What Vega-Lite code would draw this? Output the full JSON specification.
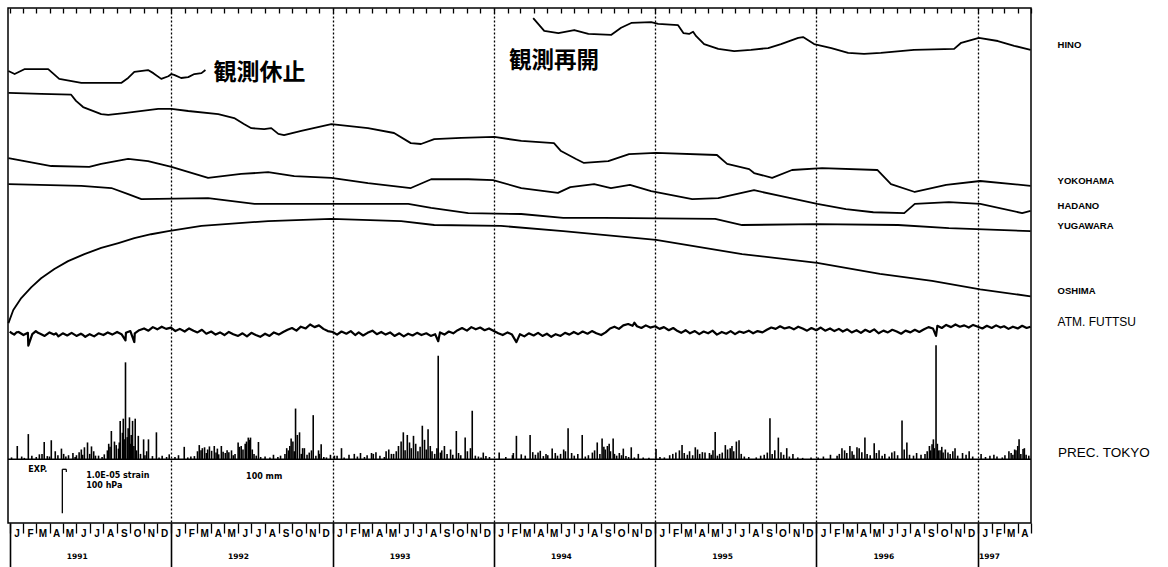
{
  "$schema": "https://vega.github.io/schema/vega-lite/v6.json",
  "width": 1023,
  "height": 515,
  "padding": {"left": 7, "top": 7, "right": 2, "bottom": 0},
  "background": "white",
  "config": {
    "view": {"stroke": "black", "strokeWidth": 1.5},
    "text": {"font": "Liberation Sans", "color": "black"}
  },
  "resolve": {"axis": {"x": "independent"}},
  "datasets": {
    "one": [{}],
    "strain": [
      {"station": "HINO", "part": 1, "date": "1990-12-29", "value": 882},
      {"station": "HINO", "part": 1, "date": "1991-01-12", "value": 875},
      {"station": "HINO", "part": 1, "date": "1991-02-03", "value": 886},
      {"station": "HINO", "part": 1, "date": "1991-03-29", "value": 886},
      {"station": "HINO", "part": 1, "date": "1991-04-23", "value": 864},
      {"station": "HINO", "part": 1, "date": "1991-06-12", "value": 855},
      {"station": "HINO", "part": 1, "date": "1991-09-11", "value": 855},
      {"station": "HINO", "part": 1, "date": "1991-09-26", "value": 866},
      {"station": "HINO", "part": 1, "date": "1991-10-10", "value": 880},
      {"station": "HINO", "part": 1, "date": "1991-11-10", "value": 884},
      {"station": "HINO", "part": 1, "date": "1991-11-22", "value": 877},
      {"station": "HINO", "part": 1, "date": "1991-12-10", "value": 864},
      {"station": "HINO", "part": 1, "date": "1991-12-26", "value": 870},
      {"station": "HINO", "part": 1, "date": "1992-01-02", "value": 875},
      {"station": "HINO", "part": 1, "date": "1992-01-08", "value": 873},
      {"station": "HINO", "part": 1, "date": "1992-01-24", "value": 866},
      {"station": "HINO", "part": 1, "date": "1992-02-09", "value": 868},
      {"station": "HINO", "part": 1, "date": "1992-02-23", "value": 875},
      {"station": "HINO", "part": 1, "date": "1992-03-10", "value": 877},
      {"station": "HINO", "part": 1, "date": "1992-03-19", "value": 884},
      {"station": "HINO", "part": 2, "date": "1994-03-31", "value": 1002},
      {"station": "HINO", "part": 2, "date": "1994-04-25", "value": 973},
      {"station": "HINO", "part": 2, "date": "1994-05-27", "value": 968},
      {"station": "HINO", "part": 2, "date": "1994-07-02", "value": 975},
      {"station": "HINO", "part": 2, "date": "1994-08-03", "value": 966},
      {"station": "HINO", "part": 2, "date": "1994-09-24", "value": 964},
      {"station": "HINO", "part": 2, "date": "1994-10-16", "value": 980},
      {"station": "HINO", "part": 2, "date": "1994-11-08", "value": 991},
      {"station": "HINO", "part": 2, "date": "1994-12-23", "value": 993},
      {"station": "HINO", "part": 2, "date": "1995-01-08", "value": 989},
      {"station": "HINO", "part": 2, "date": "1995-02-22", "value": 986},
      {"station": "HINO", "part": 2, "date": "1995-03-06", "value": 968},
      {"station": "HINO", "part": 2, "date": "1995-03-19", "value": 966},
      {"station": "HINO", "part": 2, "date": "1995-03-28", "value": 971},
      {"station": "HINO", "part": 2, "date": "1995-04-04", "value": 961},
      {"station": "HINO", "part": 2, "date": "1995-04-22", "value": 943},
      {"station": "HINO", "part": 2, "date": "1995-05-24", "value": 932},
      {"station": "HINO", "part": 2, "date": "1995-06-29", "value": 927},
      {"station": "HINO", "part": 2, "date": "1995-08-06", "value": 930},
      {"station": "HINO", "part": 2, "date": "1995-09-14", "value": 934},
      {"station": "HINO", "part": 2, "date": "1995-10-13", "value": 943},
      {"station": "HINO", "part": 2, "date": "1995-11-21", "value": 957},
      {"station": "HINO", "part": 2, "date": "1995-12-02", "value": 959},
      {"station": "HINO", "part": 2, "date": "1995-12-27", "value": 943},
      {"station": "HINO", "part": 2, "date": "1996-02-04", "value": 934},
      {"station": "HINO", "part": 2, "date": "1996-03-13", "value": 923},
      {"station": "HINO", "part": 2, "date": "1996-04-18", "value": 921},
      {"station": "HINO", "part": 2, "date": "1996-05-26", "value": 923},
      {"station": "HINO", "part": 2, "date": "1996-08-09", "value": 930},
      {"station": "HINO", "part": 2, "date": "1996-11-08", "value": 932},
      {"station": "HINO", "part": 2, "date": "1996-11-24", "value": 946},
      {"station": "HINO", "part": 2, "date": "1997-01-03", "value": 957},
      {"station": "HINO", "part": 2, "date": "1997-02-15", "value": 950},
      {"station": "HINO", "part": 2, "date": "1997-03-24", "value": 939},
      {"station": "HINO", "part": 2, "date": "1997-04-30", "value": 930},
      {"station": "YOKOHAMA", "part": 1, "date": "1990-12-29", "value": 832},
      {"station": "YOKOHAMA", "part": 1, "date": "1991-03-13", "value": 830},
      {"station": "YOKOHAMA", "part": 1, "date": "1991-05-20", "value": 828},
      {"station": "YOKOHAMA", "part": 1, "date": "1991-05-31", "value": 814},
      {"station": "YOKOHAMA", "part": 1, "date": "1991-06-16", "value": 800},
      {"station": "YOKOHAMA", "part": 1, "date": "1991-07-27", "value": 784},
      {"station": "YOKOHAMA", "part": 1, "date": "1991-08-12", "value": 782},
      {"station": "YOKOHAMA", "part": 1, "date": "1991-09-17", "value": 786},
      {"station": "YOKOHAMA", "part": 1, "date": "1991-12-03", "value": 796},
      {"station": "YOKOHAMA", "part": 1, "date": "1992-01-02", "value": 796},
      {"station": "YOKOHAMA", "part": 1, "date": "1992-02-09", "value": 791},
      {"station": "YOKOHAMA", "part": 1, "date": "1992-04-17", "value": 784},
      {"station": "YOKOHAMA", "part": 1, "date": "1992-05-23", "value": 775},
      {"station": "YOKOHAMA", "part": 1, "date": "1992-06-15", "value": 761},
      {"station": "YOKOHAMA", "part": 1, "date": "1992-07-01", "value": 752},
      {"station": "YOKOHAMA", "part": 1, "date": "1992-07-30", "value": 750},
      {"station": "YOKOHAMA", "part": 1, "date": "1992-08-15", "value": 752},
      {"station": "YOKOHAMA", "part": 1, "date": "1992-08-31", "value": 739},
      {"station": "YOKOHAMA", "part": 1, "date": "1992-09-13", "value": 736},
      {"station": "YOKOHAMA", "part": 1, "date": "1992-10-22", "value": 746},
      {"station": "YOKOHAMA", "part": 1, "date": "1992-12-29", "value": 761},
      {"station": "YOKOHAMA", "part": 1, "date": "1993-03-22", "value": 752},
      {"station": "YOKOHAMA", "part": 1, "date": "1993-05-20", "value": 741},
      {"station": "YOKOHAMA", "part": 1, "date": "1993-06-27", "value": 718},
      {"station": "YOKOHAMA", "part": 1, "date": "1993-07-20", "value": 716},
      {"station": "YOKOHAMA", "part": 1, "date": "1993-08-19", "value": 727},
      {"station": "YOKOHAMA", "part": 1, "date": "1993-10-19", "value": 730},
      {"station": "YOKOHAMA", "part": 1, "date": "1994-01-02", "value": 732},
      {"station": "YOKOHAMA", "part": 1, "date": "1994-03-04", "value": 723},
      {"station": "YOKOHAMA", "part": 1, "date": "1994-05-17", "value": 718},
      {"station": "YOKOHAMA", "part": 1, "date": "1994-06-02", "value": 700},
      {"station": "YOKOHAMA", "part": 1, "date": "1994-07-06", "value": 682},
      {"station": "YOKOHAMA", "part": 1, "date": "1994-07-24", "value": 673},
      {"station": "YOKOHAMA", "part": 1, "date": "1994-09-17", "value": 677},
      {"station": "YOKOHAMA", "part": 1, "date": "1994-11-03", "value": 693},
      {"station": "YOKOHAMA", "part": 1, "date": "1995-01-03", "value": 696},
      {"station": "YOKOHAMA", "part": 1, "date": "1995-05-21", "value": 691},
      {"station": "YOKOHAMA", "part": 1, "date": "1995-06-13", "value": 671},
      {"station": "YOKOHAMA", "part": 1, "date": "1995-08-02", "value": 659},
      {"station": "YOKOHAMA", "part": 1, "date": "1995-08-13", "value": 650},
      {"station": "YOKOHAMA", "part": 1, "date": "1995-09-23", "value": 639},
      {"station": "YOKOHAMA", "part": 1, "date": "1995-11-07", "value": 657},
      {"station": "YOKOHAMA", "part": 1, "date": "1996-01-14", "value": 661},
      {"station": "YOKOHAMA", "part": 1, "date": "1996-05-18", "value": 657},
      {"station": "YOKOHAMA", "part": 1, "date": "1996-06-18", "value": 625},
      {"station": "YOKOHAMA", "part": 1, "date": "1996-08-11", "value": 607},
      {"station": "YOKOHAMA", "part": 1, "date": "1996-10-21", "value": 623},
      {"station": "YOKOHAMA", "part": 1, "date": "1997-01-06", "value": 632},
      {"station": "YOKOHAMA", "part": 1, "date": "1997-04-30", "value": 621},
      {"station": "HADANO", "part": 1, "date": "1990-12-29", "value": 684},
      {"station": "HADANO", "part": 1, "date": "1991-04-05", "value": 666},
      {"station": "HADANO", "part": 1, "date": "1991-06-30", "value": 664},
      {"station": "HADANO", "part": 1, "date": "1991-07-27", "value": 671},
      {"station": "HADANO", "part": 1, "date": "1991-09-26", "value": 682},
      {"station": "HADANO", "part": 1, "date": "1991-11-10", "value": 677},
      {"station": "HADANO", "part": 1, "date": "1992-01-02", "value": 664},
      {"station": "HADANO", "part": 1, "date": "1992-03-25", "value": 639},
      {"station": "HADANO", "part": 1, "date": "1992-06-08", "value": 648},
      {"station": "HADANO", "part": 1, "date": "1992-08-08", "value": 652},
      {"station": "HADANO", "part": 1, "date": "1992-10-06", "value": 643},
      {"station": "HADANO", "part": 1, "date": "1992-12-29", "value": 639},
      {"station": "HADANO", "part": 1, "date": "1993-03-22", "value": 627},
      {"station": "HADANO", "part": 1, "date": "1993-06-27", "value": 616},
      {"station": "HADANO", "part": 1, "date": "1993-08-12", "value": 636},
      {"station": "HADANO", "part": 1, "date": "1993-11-04", "value": 636},
      {"station": "HADANO", "part": 1, "date": "1993-12-30", "value": 634},
      {"station": "HADANO", "part": 1, "date": "1994-03-04", "value": 616},
      {"station": "HADANO", "part": 1, "date": "1994-05-26", "value": 605},
      {"station": "HADANO", "part": 1, "date": "1994-06-23", "value": 618},
      {"station": "HADANO", "part": 1, "date": "1994-08-16", "value": 625},
      {"station": "HADANO", "part": 1, "date": "1994-09-23", "value": 616},
      {"station": "HADANO", "part": 1, "date": "1994-11-05", "value": 623},
      {"station": "HADANO", "part": 1, "date": "1994-12-23", "value": 609},
      {"station": "HADANO", "part": 1, "date": "1995-03-26", "value": 591},
      {"station": "HADANO", "part": 1, "date": "1995-05-24", "value": 593},
      {"station": "HADANO", "part": 1, "date": "1995-08-13", "value": 611},
      {"station": "HADANO", "part": 1, "date": "1995-10-11", "value": 598},
      {"station": "HADANO", "part": 1, "date": "1996-01-03", "value": 580},
      {"station": "HADANO", "part": 1, "date": "1996-03-08", "value": 568},
      {"station": "HADANO", "part": 1, "date": "1996-05-09", "value": 561},
      {"station": "HADANO", "part": 1, "date": "1996-07-18", "value": 559},
      {"station": "HADANO", "part": 1, "date": "1996-08-11", "value": 580},
      {"station": "HADANO", "part": 1, "date": "1996-10-27", "value": 584},
      {"station": "HADANO", "part": 1, "date": "1997-01-06", "value": 580},
      {"station": "HADANO", "part": 1, "date": "1997-04-11", "value": 559},
      {"station": "HADANO", "part": 1, "date": "1997-04-30", "value": 564},
      {"station": "YUGAWARA", "part": 1, "date": "1990-12-29", "value": 625},
      {"station": "YUGAWARA", "part": 1, "date": "1991-06-12", "value": 621},
      {"station": "YUGAWARA", "part": 1, "date": "1991-08-19", "value": 616},
      {"station": "YUGAWARA", "part": 1, "date": "1991-09-26", "value": 602},
      {"station": "YUGAWARA", "part": 1, "date": "1991-10-26", "value": 591},
      {"station": "YUGAWARA", "part": 1, "date": "1992-03-25", "value": 593},
      {"station": "YUGAWARA", "part": 1, "date": "1992-07-08", "value": 580},
      {"station": "YUGAWARA", "part": 1, "date": "1992-12-29", "value": 580},
      {"station": "YUGAWARA", "part": 1, "date": "1993-06-21", "value": 580},
      {"station": "YUGAWARA", "part": 1, "date": "1993-08-12", "value": 571},
      {"station": "YUGAWARA", "part": 1, "date": "1993-11-04", "value": 559},
      {"station": "YUGAWARA", "part": 1, "date": "1994-03-04", "value": 557},
      {"station": "YUGAWARA", "part": 1, "date": "1994-06-07", "value": 548},
      {"station": "YUGAWARA", "part": 1, "date": "1994-09-08", "value": 548},
      {"station": "YUGAWARA", "part": 1, "date": "1995-05-17", "value": 546},
      {"station": "YUGAWARA", "part": 1, "date": "1995-07-17", "value": 532},
      {"station": "YUGAWARA", "part": 1, "date": "1996-01-03", "value": 534},
      {"station": "YUGAWARA", "part": 1, "date": "1996-07-04", "value": 532},
      {"station": "YUGAWARA", "part": 1, "date": "1996-10-27", "value": 525},
      {"station": "YUGAWARA", "part": 1, "date": "1997-04-30", "value": 518},
      {"station": "OSHIMA", "part": 1, "date": "1990-12-29", "value": 309},
      {"station": "OSHIMA", "part": 1, "date": "1991-01-09", "value": 339},
      {"station": "OSHIMA", "part": 1, "date": "1991-01-27", "value": 366},
      {"station": "OSHIMA", "part": 1, "date": "1991-02-19", "value": 391},
      {"station": "OSHIMA", "part": 1, "date": "1991-03-13", "value": 411},
      {"station": "OSHIMA", "part": 1, "date": "1991-04-12", "value": 432},
      {"station": "OSHIMA", "part": 1, "date": "1991-05-13", "value": 450},
      {"station": "OSHIMA", "part": 1, "date": "1991-06-19", "value": 466},
      {"station": "OSHIMA", "part": 1, "date": "1991-07-27", "value": 480},
      {"station": "OSHIMA", "part": 1, "date": "1991-09-04", "value": 491},
      {"station": "OSHIMA", "part": 1, "date": "1991-10-10", "value": 502},
      {"station": "OSHIMA", "part": 1, "date": "1991-11-17", "value": 511},
      {"station": "OSHIMA", "part": 1, "date": "1991-12-26", "value": 518},
      {"station": "OSHIMA", "part": 1, "date": "1992-03-10", "value": 530},
      {"station": "OSHIMA", "part": 1, "date": "1992-08-08", "value": 541},
      {"station": "OSHIMA", "part": 1, "date": "1992-12-29", "value": 546},
      {"station": "OSHIMA", "part": 1, "date": "1993-06-05", "value": 541},
      {"station": "OSHIMA", "part": 1, "date": "1993-08-19", "value": 532},
      {"station": "OSHIMA", "part": 1, "date": "1994-01-17", "value": 530},
      {"station": "OSHIMA", "part": 1, "date": "1994-06-07", "value": 518},
      {"station": "OSHIMA", "part": 1, "date": "1995-01-03", "value": 498},
      {"station": "OSHIMA", "part": 1, "date": "1995-07-17", "value": 466},
      {"station": "OSHIMA", "part": 1, "date": "1996-01-03", "value": 446},
      {"station": "OSHIMA", "part": 1, "date": "1996-05-24", "value": 421},
      {"station": "OSHIMA", "part": 1, "date": "1996-09-19", "value": 405},
      {"station": "OSHIMA", "part": 1, "date": "1997-01-06", "value": 386},
      {"station": "OSHIMA", "part": 1, "date": "1997-04-30", "value": 370}
    ],
    "atm": [
      {"date": "1991-01-01", "value": 290}, {"date": "1991-01-06", "value": 286}, {"date": "1991-01-11", "value": 283}, {"date": "1991-01-16", "value": 288}, {"date": "1991-01-21", "value": 289},
      {"date": "1991-02-01", "value": 282}, {"date": "1991-02-11", "value": 287}, {"date": "1991-02-12", "value": 258}, {"date": "1991-02-21", "value": 284},
      {"date": "1991-03-01", "value": 291}, {"date": "1991-03-06", "value": 287}, {"date": "1991-03-11", "value": 285}, {"date": "1991-03-21", "value": 280},
      {"date": "1991-04-01", "value": 288}, {"date": "1991-04-11", "value": 283}, {"date": "1991-04-16", "value": 286}, {"date": "1991-04-21", "value": 279},
      {"date": "1991-05-01", "value": 286}, {"date": "1991-05-11", "value": 281}, {"date": "1991-05-21", "value": 287},
      {"date": "1991-06-01", "value": 280}, {"date": "1991-06-11", "value": 285}, {"date": "1991-06-16", "value": 282}, {"date": "1991-06-21", "value": 278},
      {"date": "1991-07-01", "value": 284}, {"date": "1991-07-11", "value": 279}, {"date": "1991-07-21", "value": 286},
      {"date": "1991-08-01", "value": 282}, {"date": "1991-08-06", "value": 285}, {"date": "1991-08-11", "value": 288}, {"date": "1991-08-21", "value": 283},
      {"date": "1991-09-01", "value": 289}, {"date": "1991-09-11", "value": 284}, {"date": "1991-09-20", "value": 270}, {"date": "1991-09-21", "value": 287},
      {"date": "1991-10-01", "value": 291}, {"date": "1991-10-10", "value": 266}, {"date": "1991-10-11", "value": 286}, {"date": "1991-10-21", "value": 293},
      {"date": "1991-11-01", "value": 297}, {"date": "1991-11-11", "value": 292}, {"date": "1991-11-16", "value": 296}, {"date": "1991-11-21", "value": 300},
      {"date": "1991-12-01", "value": 295}, {"date": "1991-12-11", "value": 301}, {"date": "1991-12-21", "value": 296},
      {"date": "1992-01-01", "value": 299}, {"date": "1992-01-11", "value": 291}, {"date": "1992-01-21", "value": 296},
      {"date": "1992-02-01", "value": 290}, {"date": "1992-02-11", "value": 297}, {"date": "1992-02-21", "value": 292},
      {"date": "1992-03-01", "value": 288}, {"date": "1992-03-11", "value": 294}, {"date": "1992-03-21", "value": 285},
      {"date": "1992-04-01", "value": 290}, {"date": "1992-04-11", "value": 283}, {"date": "1992-04-21", "value": 288},
      {"date": "1992-05-01", "value": 282}, {"date": "1992-05-11", "value": 289}, {"date": "1992-05-21", "value": 284},
      {"date": "1992-06-01", "value": 280}, {"date": "1992-06-11", "value": 286}, {"date": "1992-06-21", "value": 279},
      {"date": "1992-07-01", "value": 287}, {"date": "1992-07-11", "value": 282}, {"date": "1992-07-21", "value": 278},
      {"date": "1992-08-01", "value": 285}, {"date": "1992-08-11", "value": 280}, {"date": "1992-08-21", "value": 288},
      {"date": "1992-09-01", "value": 283}, {"date": "1992-09-11", "value": 289}, {"date": "1992-09-21", "value": 294},
      {"date": "1992-10-01", "value": 298}, {"date": "1992-10-11", "value": 292}, {"date": "1992-10-21", "value": 301},
      {"date": "1992-11-01", "value": 297}, {"date": "1992-11-11", "value": 306}, {"date": "1992-11-21", "value": 300},
      {"date": "1992-12-01", "value": 304}, {"date": "1992-12-11", "value": 296}, {"date": "1992-12-21", "value": 291},
      {"date": "1993-01-01", "value": 289}, {"date": "1993-01-11", "value": 283}, {"date": "1993-01-21", "value": 290},
      {"date": "1993-02-01", "value": 285}, {"date": "1993-02-11", "value": 291}, {"date": "1993-02-21", "value": 282},
      {"date": "1993-03-01", "value": 288}, {"date": "1993-03-11", "value": 281}, {"date": "1993-03-21", "value": 287},
      {"date": "1993-04-01", "value": 292}, {"date": "1993-04-11", "value": 284}, {"date": "1993-04-21", "value": 289},
      {"date": "1993-05-01", "value": 283}, {"date": "1993-05-11", "value": 288}, {"date": "1993-05-21", "value": 280},
      {"date": "1993-06-01", "value": 286}, {"date": "1993-06-11", "value": 279}, {"date": "1993-06-21", "value": 285},
      {"date": "1993-07-01", "value": 281}, {"date": "1993-07-11", "value": 287}, {"date": "1993-07-21", "value": 282},
      {"date": "1993-08-01", "value": 286}, {"date": "1993-08-11", "value": 280}, {"date": "1993-08-21", "value": 284}, {"date": "1993-08-28", "value": 268},
      {"date": "1993-09-01", "value": 288}, {"date": "1993-09-11", "value": 283}, {"date": "1993-09-21", "value": 290},
      {"date": "1993-10-01", "value": 286}, {"date": "1993-10-11", "value": 293}, {"date": "1993-10-21", "value": 298},
      {"date": "1993-11-01", "value": 292}, {"date": "1993-11-11", "value": 300}, {"date": "1993-11-21", "value": 295},
      {"date": "1993-12-01", "value": 299}, {"date": "1993-12-11", "value": 293}, {"date": "1993-12-21", "value": 297},
      {"date": "1994-01-01", "value": 291}, {"date": "1994-01-11", "value": 286}, {"date": "1994-01-21", "value": 282},
      {"date": "1994-02-01", "value": 288}, {"date": "1994-02-11", "value": 283}, {"date": "1994-02-21", "value": 266},
      {"date": "1994-03-01", "value": 284}, {"date": "1994-03-11", "value": 279}, {"date": "1994-03-21", "value": 286},
      {"date": "1994-04-01", "value": 281}, {"date": "1994-04-11", "value": 287}, {"date": "1994-04-21", "value": 280},
      {"date": "1994-05-01", "value": 285}, {"date": "1994-05-11", "value": 278}, {"date": "1994-05-21", "value": 284},
      {"date": "1994-06-01", "value": 280}, {"date": "1994-06-11", "value": 287}, {"date": "1994-06-21", "value": 283},
      {"date": "1994-07-01", "value": 289}, {"date": "1994-07-11", "value": 284}, {"date": "1994-07-21", "value": 290},
      {"date": "1994-08-01", "value": 285}, {"date": "1994-08-11", "value": 291}, {"date": "1994-08-21", "value": 286},
      {"date": "1994-09-01", "value": 282}, {"date": "1994-09-11", "value": 288}, {"date": "1994-09-21", "value": 297},
      {"date": "1994-10-01", "value": 301}, {"date": "1994-10-11", "value": 296}, {"date": "1994-10-21", "value": 304},
      {"date": "1994-11-01", "value": 307}, {"date": "1994-11-11", "value": 303}, {"date": "1994-11-15", "value": 310}, {"date": "1994-11-21", "value": 302},
      {"date": "1994-12-01", "value": 298}, {"date": "1994-12-11", "value": 304}, {"date": "1994-12-21", "value": 299},
      {"date": "1995-01-01", "value": 302}, {"date": "1995-01-11", "value": 296}, {"date": "1995-01-21", "value": 300},
      {"date": "1995-02-01", "value": 293}, {"date": "1995-02-11", "value": 298}, {"date": "1995-02-21", "value": 291},
      {"date": "1995-03-01", "value": 287}, {"date": "1995-03-11", "value": 293}, {"date": "1995-03-21", "value": 286},
      {"date": "1995-04-01", "value": 291}, {"date": "1995-04-11", "value": 284}, {"date": "1995-04-21", "value": 290},
      {"date": "1995-05-01", "value": 286}, {"date": "1995-05-11", "value": 292}, {"date": "1995-05-21", "value": 283},
      {"date": "1995-06-01", "value": 289}, {"date": "1995-06-11", "value": 285}, {"date": "1995-06-21", "value": 291},
      {"date": "1995-07-01", "value": 284}, {"date": "1995-07-11", "value": 290}, {"date": "1995-07-21", "value": 287},
      {"date": "1995-08-01", "value": 292}, {"date": "1995-08-11", "value": 286}, {"date": "1995-08-21", "value": 291},
      {"date": "1995-09-01", "value": 288}, {"date": "1995-09-11", "value": 294}, {"date": "1995-09-21", "value": 299},
      {"date": "1995-10-01", "value": 296}, {"date": "1995-10-11", "value": 302}, {"date": "1995-10-21", "value": 297},
      {"date": "1995-11-01", "value": 300}, {"date": "1995-11-11", "value": 295}, {"date": "1995-11-21", "value": 301},
      {"date": "1995-12-01", "value": 297}, {"date": "1995-12-11", "value": 292}, {"date": "1995-12-21", "value": 298},
      {"date": "1996-01-01", "value": 293}, {"date": "1996-01-11", "value": 299}, {"date": "1996-01-21", "value": 292},
      {"date": "1996-02-01", "value": 297}, {"date": "1996-02-11", "value": 291}, {"date": "1996-02-21", "value": 296},
      {"date": "1996-03-01", "value": 290}, {"date": "1996-03-11", "value": 295}, {"date": "1996-03-21", "value": 288},
      {"date": "1996-04-01", "value": 293}, {"date": "1996-04-11", "value": 287}, {"date": "1996-04-21", "value": 294},
      {"date": "1996-05-01", "value": 289}, {"date": "1996-05-11", "value": 295}, {"date": "1996-05-21", "value": 286},
      {"date": "1996-06-01", "value": 292}, {"date": "1996-06-11", "value": 288}, {"date": "1996-06-21", "value": 294},
      {"date": "1996-07-01", "value": 290}, {"date": "1996-07-11", "value": 285}, {"date": "1996-07-21", "value": 292},
      {"date": "1996-08-01", "value": 288}, {"date": "1996-08-11", "value": 294}, {"date": "1996-08-21", "value": 289},
      {"date": "1996-09-01", "value": 295}, {"date": "1996-09-11", "value": 300}, {"date": "1996-09-21", "value": 297}, {"date": "1996-09-28", "value": 280},
      {"date": "1996-10-01", "value": 303}, {"date": "1996-10-11", "value": 298}, {"date": "1996-10-21", "value": 305},
      {"date": "1996-11-01", "value": 300}, {"date": "1996-11-11", "value": 306}, {"date": "1996-11-21", "value": 301},
      {"date": "1996-12-01", "value": 304}, {"date": "1996-12-11", "value": 299}, {"date": "1996-12-21", "value": 305},
      {"date": "1997-01-01", "value": 301}, {"date": "1997-01-11", "value": 297}, {"date": "1997-01-21", "value": 303},
      {"date": "1997-02-01", "value": 298}, {"date": "1997-02-11", "value": 304}, {"date": "1997-02-21", "value": 299},
      {"date": "1997-03-01", "value": 302}, {"date": "1997-03-11", "value": 296}, {"date": "1997-03-21", "value": 301},
      {"date": "1997-04-01", "value": 297}, {"date": "1997-04-11", "value": 303}, {"date": "1997-04-21", "value": 298}, {"date": "1997-04-30", "value": 301}
    ],
    "rain": [
      {"date": "1991-01-05", "mm": 4}, {"date": "1991-01-18", "mm": 30}, {"date": "1991-01-28", "mm": 6}, {"date": "1991-02-03", "mm": 3},
      {"date": "1991-02-12", "mm": 57}, {"date": "1991-02-20", "mm": 8}, {"date": "1991-03-02", "mm": 5}, {"date": "1991-03-09", "mm": 11},
      {"date": "1991-03-15", "mm": 12}, {"date": "1991-03-20", "mm": 39}, {"date": "1991-03-27", "mm": 7}, {"date": "1991-04-01", "mm": 6},
      {"date": "1991-04-05", "mm": 43}, {"date": "1991-04-14", "mm": 18}, {"date": "1991-04-20", "mm": 9}, {"date": "1991-04-28", "mm": 24},
      {"date": "1991-05-03", "mm": 12}, {"date": "1991-05-08", "mm": 6}, {"date": "1991-05-14", "mm": 9}, {"date": "1991-05-24", "mm": 14},
      {"date": "1991-05-29", "mm": 5}, {"date": "1991-06-01", "mm": 9}, {"date": "1991-06-07", "mm": 16}, {"date": "1991-06-12", "mm": 22},
      {"date": "1991-06-15", "mm": 10}, {"date": "1991-06-19", "mm": 27}, {"date": "1991-06-26", "mm": 38}, {"date": "1991-07-01", "mm": 12},
      {"date": "1991-07-05", "mm": 29}, {"date": "1991-07-10", "mm": 18}, {"date": "1991-07-14", "mm": 8}, {"date": "1991-07-21", "mm": 8},
      {"date": "1991-07-29", "mm": 5}, {"date": "1991-08-03", "mm": 11}, {"date": "1991-08-10", "mm": 20}, {"date": "1991-08-13", "mm": 35},
      {"date": "1991-08-16", "mm": 28}, {"date": "1991-08-19", "mm": 64}, {"date": "1991-08-26", "mm": 40}, {"date": "1991-08-30", "mm": 32},
      {"date": "1991-09-04", "mm": 24}, {"date": "1991-09-06", "mm": 38}, {"date": "1991-09-08", "mm": 87}, {"date": "1991-09-13", "mm": 60},
      {"date": "1991-09-15", "mm": 92}, {"date": "1991-09-17", "mm": 45}, {"date": "1991-09-20", "mm": 220}, {"date": "1991-09-24", "mm": 50},
      {"date": "1991-09-26", "mm": 70}, {"date": "1991-09-29", "mm": 95}, {"date": "1991-10-01", "mm": 35}, {"date": "1991-10-03", "mm": 55},
      {"date": "1991-10-06", "mm": 87}, {"date": "1991-10-09", "mm": 30}, {"date": "1991-10-12", "mm": 92}, {"date": "1991-10-15", "mm": 20},
      {"date": "1991-10-19", "mm": 53}, {"date": "1991-10-24", "mm": 12}, {"date": "1991-10-31", "mm": 45}, {"date": "1991-11-03", "mm": 9},
      {"date": "1991-11-07", "mm": 18}, {"date": "1991-11-11", "mm": 45}, {"date": "1991-11-20", "mm": 7}, {"date": "1991-11-29", "mm": 61},
      {"date": "1991-12-05", "mm": 4}, {"date": "1991-12-12", "mm": 8}, {"date": "1991-12-22", "mm": 5}, {"date": "1991-12-28", "mm": 11},
      {"date": "1992-01-10", "mm": 5}, {"date": "1992-01-18", "mm": 9}, {"date": "1992-01-31", "mm": 28}, {"date": "1992-02-08", "mm": 4},
      {"date": "1992-02-15", "mm": 6}, {"date": "1992-02-23", "mm": 7}, {"date": "1992-03-01", "mm": 18}, {"date": "1992-03-05", "mm": 32},
      {"date": "1992-03-09", "mm": 20}, {"date": "1992-03-12", "mm": 25}, {"date": "1992-03-17", "mm": 27}, {"date": "1992-03-21", "mm": 14},
      {"date": "1992-03-24", "mm": 22}, {"date": "1992-03-28", "mm": 29}, {"date": "1992-04-02", "mm": 19}, {"date": "1992-04-08", "mm": 30},
      {"date": "1992-04-12", "mm": 15}, {"date": "1992-04-15", "mm": 24}, {"date": "1992-04-18", "mm": 11}, {"date": "1992-04-24", "mm": 30},
      {"date": "1992-04-28", "mm": 17}, {"date": "1992-05-03", "mm": 14}, {"date": "1992-05-07", "mm": 20}, {"date": "1992-05-11", "mm": 16},
      {"date": "1992-05-17", "mm": 20}, {"date": "1992-05-21", "mm": 9}, {"date": "1992-05-25", "mm": 12}, {"date": "1992-06-01", "mm": 38},
      {"date": "1992-06-04", "mm": 28}, {"date": "1992-06-08", "mm": 30}, {"date": "1992-06-12", "mm": 22}, {"date": "1992-06-17", "mm": 35},
      {"date": "1992-06-20", "mm": 40}, {"date": "1992-06-24", "mm": 49}, {"date": "1992-06-27", "mm": 44}, {"date": "1992-06-29", "mm": 49},
      {"date": "1992-07-03", "mm": 22}, {"date": "1992-07-07", "mm": 12}, {"date": "1992-07-12", "mm": 8}, {"date": "1992-07-17", "mm": 39},
      {"date": "1992-07-22", "mm": 5}, {"date": "1992-08-01", "mm": 6}, {"date": "1992-08-12", "mm": 4}, {"date": "1992-08-20", "mm": 10},
      {"date": "1992-08-30", "mm": 5}, {"date": "1992-09-05", "mm": 8}, {"date": "1992-09-15", "mm": 12}, {"date": "1992-09-19", "mm": 25},
      {"date": "1992-09-23", "mm": 20}, {"date": "1992-09-26", "mm": 30}, {"date": "1992-09-29", "mm": 47}, {"date": "1992-10-03", "mm": 40},
      {"date": "1992-10-06", "mm": 18}, {"date": "1992-10-09", "mm": 115}, {"date": "1992-10-13", "mm": 55}, {"date": "1992-10-18", "mm": 61},
      {"date": "1992-10-22", "mm": 12}, {"date": "1992-10-25", "mm": 25}, {"date": "1992-10-29", "mm": 25}, {"date": "1992-11-04", "mm": 10},
      {"date": "1992-11-09", "mm": 15}, {"date": "1992-11-14", "mm": 20}, {"date": "1992-11-18", "mm": 100}, {"date": "1992-11-24", "mm": 8},
      {"date": "1992-11-30", "mm": 20}, {"date": "1992-12-02", "mm": 12}, {"date": "1992-12-06", "mm": 34}, {"date": "1992-12-12", "mm": 5},
      {"date": "1992-12-18", "mm": 4}, {"date": "1992-12-27", "mm": 10},
      {"date": "1993-01-05", "mm": 8}, {"date": "1993-01-11", "mm": 8}, {"date": "1993-01-21", "mm": 25}, {"date": "1993-01-27", "mm": 4},
      {"date": "1993-02-07", "mm": 10}, {"date": "1993-02-19", "mm": 12}, {"date": "1993-02-26", "mm": 6}, {"date": "1993-03-05", "mm": 14},
      {"date": "1993-03-14", "mm": 5}, {"date": "1993-03-20", "mm": 9}, {"date": "1993-03-30", "mm": 14}, {"date": "1993-04-03", "mm": 12},
      {"date": "1993-04-09", "mm": 16}, {"date": "1993-04-18", "mm": 8}, {"date": "1993-04-28", "mm": 5}, {"date": "1993-05-02", "mm": 18},
      {"date": "1993-05-08", "mm": 22}, {"date": "1993-05-14", "mm": 12}, {"date": "1993-05-19", "mm": 12}, {"date": "1993-05-25", "mm": 18},
      {"date": "1993-05-30", "mm": 30}, {"date": "1993-06-05", "mm": 40}, {"date": "1993-06-10", "mm": 61}, {"date": "1993-06-14", "mm": 20},
      {"date": "1993-06-19", "mm": 55}, {"date": "1993-06-24", "mm": 38}, {"date": "1993-06-28", "mm": 25}, {"date": "1993-07-03", "mm": 53},
      {"date": "1993-07-08", "mm": 35}, {"date": "1993-07-13", "mm": 18}, {"date": "1993-07-18", "mm": 28}, {"date": "1993-07-23", "mm": 76},
      {"date": "1993-07-28", "mm": 44}, {"date": "1993-08-01", "mm": 22}, {"date": "1993-08-05", "mm": 68}, {"date": "1993-08-10", "mm": 30},
      {"date": "1993-08-14", "mm": 18}, {"date": "1993-08-20", "mm": 12}, {"date": "1993-08-25", "mm": 25}, {"date": "1993-08-28", "mm": 235},
      {"date": "1993-09-02", "mm": 15}, {"date": "1993-09-05", "mm": 20}, {"date": "1993-09-11", "mm": 30}, {"date": "1993-09-17", "mm": 12},
      {"date": "1993-09-25", "mm": 22}, {"date": "1993-09-30", "mm": 10}, {"date": "1993-10-08", "mm": 64}, {"date": "1993-10-13", "mm": 14},
      {"date": "1993-10-18", "mm": 9}, {"date": "1993-10-28", "mm": 49}, {"date": "1993-11-02", "mm": 18}, {"date": "1993-11-09", "mm": 25},
      {"date": "1993-11-13", "mm": 110}, {"date": "1993-11-20", "mm": 8}, {"date": "1993-11-27", "mm": 6}, {"date": "1993-12-03", "mm": 4},
      {"date": "1993-12-08", "mm": 15}, {"date": "1993-12-14", "mm": 7}, {"date": "1993-12-22", "mm": 5},
      {"date": "1994-01-13", "mm": 15}, {"date": "1994-01-28", "mm": 5}, {"date": "1994-02-12", "mm": 9}, {"date": "1994-02-14", "mm": 14},
      {"date": "1994-02-21", "mm": 53}, {"date": "1994-03-04", "mm": 11}, {"date": "1994-03-13", "mm": 8}, {"date": "1994-03-24", "mm": 55},
      {"date": "1994-03-30", "mm": 16}, {"date": "1994-04-05", "mm": 10}, {"date": "1994-04-11", "mm": 15}, {"date": "1994-04-16", "mm": 19},
      {"date": "1994-04-23", "mm": 7}, {"date": "1994-04-29", "mm": 12}, {"date": "1994-05-03", "mm": 9}, {"date": "1994-05-13", "mm": 24},
      {"date": "1994-05-20", "mm": 14}, {"date": "1994-05-25", "mm": 8}, {"date": "1994-06-01", "mm": 12}, {"date": "1994-06-08", "mm": 22},
      {"date": "1994-06-12", "mm": 18}, {"date": "1994-06-18", "mm": 70}, {"date": "1994-06-26", "mm": 14}, {"date": "1994-07-02", "mm": 8},
      {"date": "1994-07-10", "mm": 12}, {"date": "1994-07-20", "mm": 55}, {"date": "1994-07-27", "mm": 6}, {"date": "1994-08-03", "mm": 9},
      {"date": "1994-08-12", "mm": 15}, {"date": "1994-08-17", "mm": 20}, {"date": "1994-08-23", "mm": 38}, {"date": "1994-08-29", "mm": 12},
      {"date": "1994-09-03", "mm": 47}, {"date": "1994-09-07", "mm": 28}, {"date": "1994-09-10", "mm": 22}, {"date": "1994-09-15", "mm": 30},
      {"date": "1994-09-19", "mm": 35}, {"date": "1994-09-22", "mm": 18}, {"date": "1994-09-28", "mm": 47}, {"date": "1994-10-01", "mm": 12},
      {"date": "1994-10-06", "mm": 8}, {"date": "1994-10-12", "mm": 14}, {"date": "1994-10-17", "mm": 9}, {"date": "1994-10-21", "mm": 24},
      {"date": "1994-10-27", "mm": 7}, {"date": "1994-11-02", "mm": 5}, {"date": "1994-11-08", "mm": 27}, {"date": "1994-11-15", "mm": 4},
      {"date": "1994-11-24", "mm": 12}, {"date": "1994-12-05", "mm": 4}, {"date": "1994-12-18", "mm": 3},
      {"date": "1995-01-03", "mm": 23}, {"date": "1995-01-12", "mm": 5}, {"date": "1995-01-22", "mm": 4}, {"date": "1995-02-03", "mm": 9},
      {"date": "1995-02-10", "mm": 12}, {"date": "1995-02-17", "mm": 15}, {"date": "1995-02-25", "mm": 20}, {"date": "1995-03-03", "mm": 32},
      {"date": "1995-03-08", "mm": 14}, {"date": "1995-03-15", "mm": 10}, {"date": "1995-03-20", "mm": 18}, {"date": "1995-03-27", "mm": 9},
      {"date": "1995-04-02", "mm": 27}, {"date": "1995-04-07", "mm": 22}, {"date": "1995-04-12", "mm": 12}, {"date": "1995-04-18", "mm": 16},
      {"date": "1995-04-24", "mm": 15}, {"date": "1995-05-04", "mm": 14}, {"date": "1995-05-08", "mm": 10}, {"date": "1995-05-12", "mm": 20},
      {"date": "1995-05-17", "mm": 62}, {"date": "1995-05-22", "mm": 8}, {"date": "1995-05-27", "mm": 12}, {"date": "1995-06-02", "mm": 15},
      {"date": "1995-06-09", "mm": 32}, {"date": "1995-06-14", "mm": 22}, {"date": "1995-06-20", "mm": 25}, {"date": "1995-06-24", "mm": 30},
      {"date": "1995-06-28", "mm": 18}, {"date": "1995-07-04", "mm": 40}, {"date": "1995-07-10", "mm": 43}, {"date": "1995-07-15", "mm": 12},
      {"date": "1995-07-22", "mm": 6}, {"date": "1995-08-01", "mm": 5}, {"date": "1995-08-18", "mm": 4}, {"date": "1995-08-28", "mm": 8},
      {"date": "1995-09-05", "mm": 10}, {"date": "1995-09-12", "mm": 15}, {"date": "1995-09-18", "mm": 93}, {"date": "1995-09-23", "mm": 12},
      {"date": "1995-09-29", "mm": 20}, {"date": "1995-10-07", "mm": 49}, {"date": "1995-10-13", "mm": 16}, {"date": "1995-10-19", "mm": 10},
      {"date": "1995-10-26", "mm": 25}, {"date": "1995-11-01", "mm": 6}, {"date": "1995-11-09", "mm": 12}, {"date": "1995-11-20", "mm": 4},
      {"date": "1995-12-01", "mm": 3}, {"date": "1995-12-20", "mm": 4},
      {"date": "1996-01-05", "mm": 4}, {"date": "1996-01-17", "mm": 6}, {"date": "1996-02-02", "mm": 10}, {"date": "1996-02-17", "mm": 8},
      {"date": "1996-02-22", "mm": 12}, {"date": "1996-02-28", "mm": 25}, {"date": "1996-03-05", "mm": 20}, {"date": "1996-03-10", "mm": 14},
      {"date": "1996-03-17", "mm": 30}, {"date": "1996-03-22", "mm": 18}, {"date": "1996-03-26", "mm": 10}, {"date": "1996-04-02", "mm": 27},
      {"date": "1996-04-07", "mm": 25}, {"date": "1996-04-13", "mm": 16}, {"date": "1996-04-20", "mm": 49}, {"date": "1996-04-25", "mm": 12},
      {"date": "1996-05-02", "mm": 9}, {"date": "1996-05-11", "mm": 36}, {"date": "1996-05-16", "mm": 14}, {"date": "1996-05-22", "mm": 20},
      {"date": "1996-05-29", "mm": 8}, {"date": "1996-06-04", "mm": 12}, {"date": "1996-06-14", "mm": 6}, {"date": "1996-06-20", "mm": 15},
      {"date": "1996-06-26", "mm": 18}, {"date": "1996-07-03", "mm": 9}, {"date": "1996-07-13", "mm": 88}, {"date": "1996-07-18", "mm": 22},
      {"date": "1996-07-24", "mm": 38}, {"date": "1996-07-30", "mm": 10}, {"date": "1996-08-08", "mm": 8}, {"date": "1996-08-15", "mm": 14},
      {"date": "1996-08-25", "mm": 10}, {"date": "1996-09-03", "mm": 12}, {"date": "1996-09-08", "mm": 18}, {"date": "1996-09-13", "mm": 30},
      {"date": "1996-09-16", "mm": 20}, {"date": "1996-09-19", "mm": 34}, {"date": "1996-09-22", "mm": 45}, {"date": "1996-09-24", "mm": 25},
      {"date": "1996-09-28", "mm": 259}, {"date": "1996-10-01", "mm": 35}, {"date": "1996-10-03", "mm": 20}, {"date": "1996-10-07", "mm": 20},
      {"date": "1996-10-11", "mm": 28}, {"date": "1996-10-14", "mm": 15}, {"date": "1996-10-19", "mm": 22}, {"date": "1996-10-25", "mm": 15},
      {"date": "1996-10-30", "mm": 12}, {"date": "1996-11-05", "mm": 18}, {"date": "1996-11-10", "mm": 25}, {"date": "1996-11-16", "mm": 8},
      {"date": "1996-11-27", "mm": 14}, {"date": "1996-12-05", "mm": 10}, {"date": "1996-12-12", "mm": 18}, {"date": "1996-12-20", "mm": 6},
      {"date": "1997-01-08", "mm": 12}, {"date": "1997-01-18", "mm": 5}, {"date": "1997-01-28", "mm": 8}, {"date": "1997-02-06", "mm": 10},
      {"date": "1997-02-13", "mm": 6}, {"date": "1997-02-25", "mm": 4}, {"date": "1997-03-03", "mm": 9}, {"date": "1997-03-12", "mm": 18},
      {"date": "1997-03-17", "mm": 14}, {"date": "1997-03-21", "mm": 10}, {"date": "1997-03-25", "mm": 22}, {"date": "1997-03-28", "mm": 20},
      {"date": "1997-04-01", "mm": 30}, {"date": "1997-04-04", "mm": 45}, {"date": "1997-04-08", "mm": 12}, {"date": "1997-04-13", "mm": 23},
      {"date": "1997-04-16", "mm": 25}, {"date": "1997-04-20", "mm": 10}, {"date": "1997-04-26", "mm": 8}
    ]
  },
  "layer": [
    {
      "data": {"name": "rain"},
      "mark": {"type": "rule", "strokeWidth": 1.6, "color": "black"},
      "encoding": {
        "x": {
          "field": "date", "type": "temporal", "title": null,
          "scale": {"domain": [{"year": 1990, "month": 12, "date": 28}, {"year": 1997, "month": 5, "date": 1}]},
          "axis": {
            "orient": "bottom", "title": null,
            "tickCount": {"interval": "year", "step": 1},
            "format": "%Y",
            "domain": false,
            "ticks": true, "tickSize": 45, "tickWidth": 1.6, "tickColor": "black",
            "grid": true, "gridColor": "black", "gridDash": [2, 2], "gridWidth": 1.3,
            "gridOpacity": {"condition": {"test": "year(datum.value) < 1992", "value": 0}, "value": 1},
            "labelOffset": {"condition": {"test": "year(datum.value) >= 1997", "value": 11}, "value": 67},
            "labelAlign": "center", "labelBaseline": "top", "labelPadding": -16,
            "labelFont": "DejaVu Sans", "labelFontSize": 7.5, "labelFontWeight": "bold", "labelColor": "black",
            "labelOverlap": false, "labelFlush": false, "labelBound": false
          }
        },
        "y": {"field": "mm", "type": "quantitative", "scale": {"domain": [-145, 1025], "nice": false, "zero": false}, "axis": null},
        "y2": {"datum": 0}
      }
    },
    {
      "data": {"name": "strain"},
      "mark": {"type": "line", "strokeWidth": 1.8, "color": "black", "strokeJoin": "round"},
      "encoding": {
        "x": {
          "field": "date", "type": "temporal", "title": null,
          "scale": {"domain": [{"year": 1990, "month": 12, "date": 28}, {"year": 1997, "month": 5, "date": 1}]},
          "axis": {
            "orient": "bottom", "title": null,
            "tickCount": {"interval": "month", "step": 1},
            "labelExpr": "datum.value >= datetime(1997, 4, 1) ? '' : substring(timeFormat(datum.value, '%b'), 0, 1)",
            "domain": false, "grid": false,
            "tickSize": 10, "tickWidth": 1.3, "tickColor": "black",
            "labelOffset": 6.7, "labelAlign": "center", "labelBaseline": "top", "labelPadding": -5,
            "labelFont": "Liberation Sans", "labelFontSize": 10, "labelFontWeight": "bold", "labelColor": "black",
            "labelOverlap": false, "labelFlush": false, "labelBound": false
          }
        },
        "y": {"field": "value", "type": "quantitative", "scale": {"domain": [-145, 1025], "nice": false, "zero": false}, "axis": null},
        "detail": [{"field": "station"}, {"field": "part"}]
      }
    },
    {
      "data": {"name": "atm"},
      "mark": {"type": "line", "strokeWidth": 2.2, "color": "black", "strokeJoin": "round"},
      "encoding": {
        "x": {
          "field": "date", "type": "temporal", "title": null,
          "scale": {"domain": [{"year": 1990, "month": 12, "date": 28}, {"year": 1997, "month": 5, "date": 1}]},
          "axis": {
            "orient": "top", "title": null,
            "tickCount": {"interval": "month", "step": 1},
            "labels": false, "domain": false, "grid": false,
            "tickSize": -5, "tickWidth": 1.3, "tickColor": "black"
          }
        },
        "y": {"field": "value", "type": "quantitative", "scale": {"domain": [-145, 1025], "nice": false, "zero": false}, "axis": null}
      }
    },
    {
      "data": {"name": "strain"},
      "transform": [
        {"window": [{"op": "row_number", "as": "rank"}], "groupby": ["station"], "sort": [{"field": "date", "order": "descending"}]},
        {"filter": "datum.rank == 1"}
      ],
      "mark": {"type": "text", "align": "left", "baseline": "middle", "dx": 27, "dy": -5, "fontSize": 9.5, "fontWeight": "bold"},
      "encoding": {
        "x": {"field": "date", "type": "temporal", "axis": null},
        "y": {"field": "value", "type": "quantitative", "axis": null},
        "text": {"field": "station"}
      }
    },
    {
      "data": {"name": "atm"},
      "transform": [
        {"window": [{"op": "row_number", "as": "rank"}], "sort": [{"field": "date", "order": "descending"}]},
        {"filter": "datum.rank == 1"}
      ],
      "mark": {"type": "text", "align": "left", "baseline": "middle", "dx": 27, "dy": -5, "fontSize": 12},
      "encoding": {
        "x": {"field": "date", "type": "temporal", "axis": null},
        "y": {"field": "value", "type": "quantitative", "axis": null},
        "text": {"value": "ATM.  FUTTSU"}
      }
    },
    {
      "data": {"name": "one"},
      "mark": {"type": "text", "align": "left", "baseline": "middle", "dx": 27, "dy": -6, "fontSize": 13.5},
      "encoding": {
        "x": {"datum": {"year": 1997, "month": 5, "date": 1}, "type": "temporal", "axis": null},
        "y": {"datum": 0, "type": "quantitative", "axis": null},
        "text": {"value": "PREC.  TOKYO"}
      }
    },
    {
      "data": {"name": "one"},
      "mark": {"type": "rule", "strokeWidth": 1.5, "color": "black"},
      "encoding": {"y": {"datum": 0, "type": "quantitative", "axis": null}}
    },
    {
      "data": {"name": "one"},
      "mark": {"type": "rule", "strokeWidth": 1.3, "color": "black"},
      "encoding": {
        "x": {"datum": {"year": 1991, "month": 4, "date": 30}, "type": "temporal", "axis": null},
        "y": {"datum": -23, "type": "quantitative", "axis": null},
        "y2": {"datum": -123}
      }
    },
    {
      "data": {"name": "one"},
      "mark": {"type": "rule", "strokeWidth": 1.3, "color": "black"},
      "encoding": {
        "x": {"datum": {"year": 1991, "month": 4, "date": 30}, "type": "temporal", "axis": null},
        "x2": {"datum": {"year": 1991, "month": 5, "date": 9}},
        "y": {"datum": -23, "type": "quantitative", "axis": null}
      }
    },
    {
      "data": {"name": "one"},
      "mark": {"type": "rule", "strokeWidth": 1.2, "color": "black"},
      "encoding": {
        "x": {"datum": {"year": 1991, "month": 5, "date": 9}, "type": "temporal", "axis": null},
        "y": {"datum": -23, "type": "quantitative", "axis": null},
        "y2": {"datum": -29}
      }
    },
    {
      "data": {"name": "one"},
      "mark": {"type": "text", "align": "left", "baseline": "middle", "font": "DejaVu Sans", "fontSize": 8, "fontWeight": "bold"},
      "encoding": {
        "x": {"datum": {"year": 1991, "month": 2, "date": 12}, "type": "temporal", "axis": null},
        "y": {"datum": -24, "type": "quantitative", "axis": null},
        "text": {"value": "EXP."}
      }
    },
    {
      "data": {"name": "one"},
      "mark": {"type": "text", "align": "left", "baseline": "middle", "font": "DejaVu Sans", "fontSize": 8, "fontWeight": "bold"},
      "encoding": {
        "x": {"datum": {"year": 1991, "month": 6, "date": 23}, "type": "temporal", "axis": null},
        "y": {"datum": -38, "type": "quantitative", "axis": null},
        "text": {"value": "1.0E-05 strain"}
      }
    },
    {
      "data": {"name": "one"},
      "mark": {"type": "text", "align": "left", "baseline": "middle", "font": "DejaVu Sans", "fontSize": 8, "fontWeight": "bold"},
      "encoding": {
        "x": {"datum": {"year": 1991, "month": 6, "date": 23}, "type": "temporal", "axis": null},
        "y": {"datum": -60, "type": "quantitative", "axis": null},
        "text": {"value": "100 hPa"}
      }
    },
    {
      "data": {"name": "one"},
      "mark": {"type": "text", "align": "left", "baseline": "middle", "font": "DejaVu Sans", "fontSize": 8, "fontWeight": "bold"},
      "encoding": {
        "x": {"datum": {"year": 1992, "month": 6, "date": 19}, "type": "temporal", "axis": null},
        "y": {"datum": -40, "type": "quantitative", "axis": null},
        "text": {"value": "100 mm"}
      }
    },
    {
      "data": {"name": "one"},
      "mark": {"type": "text", "align": "left", "baseline": "middle", "font": "Noto Sans CJK JP", "fontSize": 23, "fontWeight": "bold"},
      "encoding": {
        "x": {"datum": {"year": 1992, "month": 4, "date": 6}, "type": "temporal", "axis": null},
        "y": {"datum": 877, "type": "quantitative", "axis": null},
        "text": {"value": "観測休止"}
      }
    },
    {
      "data": {"name": "one"},
      "mark": {"type": "text", "align": "left", "baseline": "middle", "font": "Noto Sans CJK JP", "fontSize": 22.5, "fontWeight": "bold"},
      "encoding": {
        "x": {"datum": {"year": 1994, "month": 2, "date": 4}, "type": "temporal", "axis": null},
        "y": {"datum": 905, "type": "quantitative", "axis": null},
        "text": {"value": "観測再開"}
      }
    }
  ]
}
